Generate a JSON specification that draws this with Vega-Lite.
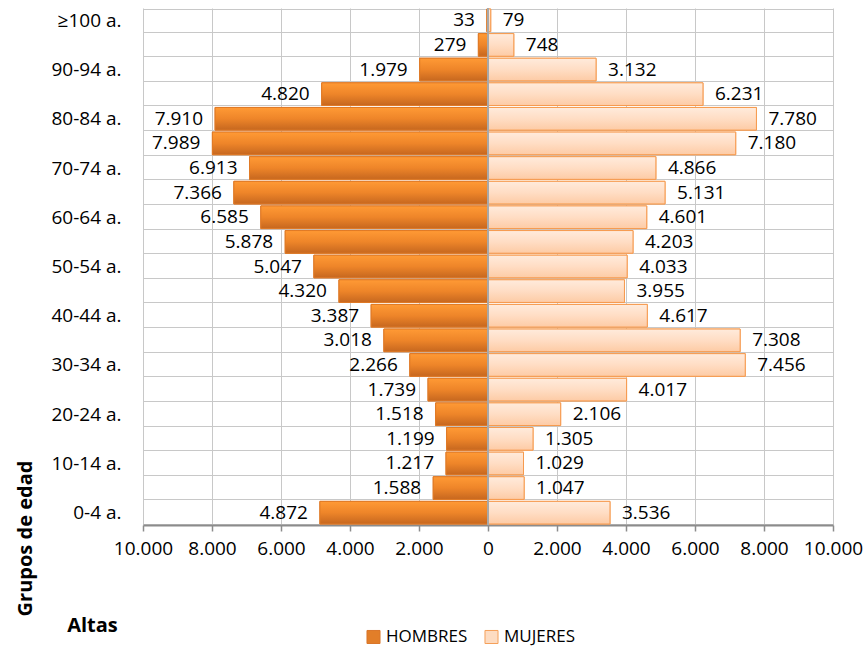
{
  "$schema": "https://vega.github.io/schema/vega-lite/v6.json",
  "width": 690,
  "height": 517,
  "autosize": {"type": "none"},
  "padding": {"left": 143, "top": 8, "right": 31, "bottom": 125},
  "background": "white",
  "config": {
    "font": "Open Sans",
    "view": {"stroke": null}
  },
  "data": {
    "values": [
      {"edad": "≥100 a.", "sexo": "HOMBRES", "n": 33},
      {"edad": "≥100 a.", "sexo": "MUJERES", "n": 79},
      {"edad": "95-99 a.", "sexo": "HOMBRES", "n": 279},
      {"edad": "95-99 a.", "sexo": "MUJERES", "n": 748},
      {"edad": "90-94 a.", "sexo": "HOMBRES", "n": 1979},
      {"edad": "90-94 a.", "sexo": "MUJERES", "n": 3132},
      {"edad": "85-89 a.", "sexo": "HOMBRES", "n": 4820},
      {"edad": "85-89 a.", "sexo": "MUJERES", "n": 6231},
      {"edad": "80-84 a.", "sexo": "HOMBRES", "n": 7910},
      {"edad": "80-84 a.", "sexo": "MUJERES", "n": 7780},
      {"edad": "75-79 a.", "sexo": "HOMBRES", "n": 7989},
      {"edad": "75-79 a.", "sexo": "MUJERES", "n": 7180},
      {"edad": "70-74 a.", "sexo": "HOMBRES", "n": 6913},
      {"edad": "70-74 a.", "sexo": "MUJERES", "n": 4866},
      {"edad": "65-69 a.", "sexo": "HOMBRES", "n": 7366},
      {"edad": "65-69 a.", "sexo": "MUJERES", "n": 5131},
      {"edad": "60-64 a.", "sexo": "HOMBRES", "n": 6585},
      {"edad": "60-64 a.", "sexo": "MUJERES", "n": 4601},
      {"edad": "55-59 a.", "sexo": "HOMBRES", "n": 5878},
      {"edad": "55-59 a.", "sexo": "MUJERES", "n": 4203},
      {"edad": "50-54 a.", "sexo": "HOMBRES", "n": 5047},
      {"edad": "50-54 a.", "sexo": "MUJERES", "n": 4033},
      {"edad": "45-49 a.", "sexo": "HOMBRES", "n": 4320},
      {"edad": "45-49 a.", "sexo": "MUJERES", "n": 3955},
      {"edad": "40-44 a.", "sexo": "HOMBRES", "n": 3387},
      {"edad": "40-44 a.", "sexo": "MUJERES", "n": 4617},
      {"edad": "35-39 a.", "sexo": "HOMBRES", "n": 3018},
      {"edad": "35-39 a.", "sexo": "MUJERES", "n": 7308},
      {"edad": "30-34 a.", "sexo": "HOMBRES", "n": 2266},
      {"edad": "30-34 a.", "sexo": "MUJERES", "n": 7456},
      {"edad": "25-29 a.", "sexo": "HOMBRES", "n": 1739},
      {"edad": "25-29 a.", "sexo": "MUJERES", "n": 4017},
      {"edad": "20-24 a.", "sexo": "HOMBRES", "n": 1518},
      {"edad": "20-24 a.", "sexo": "MUJERES", "n": 2106},
      {"edad": "15-19 a.", "sexo": "HOMBRES", "n": 1199},
      {"edad": "15-19 a.", "sexo": "MUJERES", "n": 1305},
      {"edad": "10-14 a.", "sexo": "HOMBRES", "n": 1217},
      {"edad": "10-14 a.", "sexo": "MUJERES", "n": 1029},
      {"edad": "5-9 a.", "sexo": "HOMBRES", "n": 1588},
      {"edad": "5-9 a.", "sexo": "MUJERES", "n": 1047},
      {"edad": "0-4 a.", "sexo": "HOMBRES", "n": 4872},
      {"edad": "0-4 a.", "sexo": "MUJERES", "n": 3536}
    ]
  },
  "transform": [
    {"calculate": "datum.sexo == 'HOMBRES' ? -datum.n : datum.n", "as": "x"},
    {"calculate": "replace(format(datum.n, ','), ',', '.')", "as": "lbl"}
  ],
  "layer": [
    {
      "mark": {"type": "bar", "strokeWidth": 1},
      "encoding": {
        "y": {
          "field": "edad",
          "type": "nominal",
          "sort": ["≥100 a.", "95-99 a.", "90-94 a.", "85-89 a.", "80-84 a.", "75-79 a.", "70-74 a.", "65-69 a.", "60-64 a.", "55-59 a.", "50-54 a.", "45-49 a.", "40-44 a.", "35-39 a.", "30-34 a.", "25-29 a.", "20-24 a.", "15-19 a.", "10-14 a.", "5-9 a.", "0-4 a."],
          "scale": {"paddingInner": 0.08, "paddingOuter": 0.04},
          "axis": {
            "title": "Grupos de edad",
            "titleFontSize": 20,
            "titleFontWeight": "bold",
            "titleColor": "black",
            "titleAngle": -90,
            "titleAlign": "center",
            "titleBaseline": "middle",
            "titleX": -118,
            "titleY": 530,
            "labelExpr": "indexof(['0-4 a.','10-14 a.','20-24 a.','30-34 a.','40-44 a.','50-54 a.','60-64 a.','70-74 a.','80-84 a.','90-94 a.','≥100 a.'], datum.value) >= 0 ? datum.value : ''",
            "labelFontSize": 19,
            "labelColor": "black",
            "labelPadding": 22,
            "ticks": false,
            "domain": false,
            "grid": true,
            "tickBand": "extent",
            "gridColor": "#c8c8c8",
            "gridWidth": 1
          }
        },
        "x": {
          "field": "x",
          "type": "quantitative",
          "stack": null,
          "scale": {"domain": [-10000, 10000], "nice": false},
          "axis": {
            "title": "Altas",
            "titleFontSize": 20,
            "titleFontWeight": "bold",
            "titleColor": "black",
            "titleX": -51,
            "titleY": 100,
            "titleAlign": "center",
            "titleBaseline": "middle",
            "values": [-10000, -8000, -6000, -4000, -2000, 0, 2000, 4000, 6000, 8000, 10000],
            "labelExpr": "replace(format(abs(datum.value), ','), ',', '.')",
            "labelFontSize": 19,
            "labelColor": "black",
            "labelPadding": 8,
            "labelFlush": false,
            "tickSize": 6,
            "tickColor": "#8c8c8c",
            "tickWidth": 1.5,
            "domainColor": "#8c8c8c",
            "domainWidth": 2,
            "grid": true,
            "gridColor": "#c8c8c8",
            "gridWidth": 1
          }
        },
        "fill": {
          "field": "sexo",
          "type": "nominal",
          "scale": {"domain": ["HOMBRES", "MUJERES"], "range": ["#E27E29", "#FDDCC2"]},
          "legend": {
            "title": null,
            "orient": "none",
            "legendX": 222,
            "legendY": 620,
            "direction": "horizontal",
            "symbolType": "square",
            "symbolSize": 170,
            "symbolStrokeWidth": 1,
            "labelFontSize": 17,
            "labelColor": "black",
            "columnPadding": 14,
            "labelOffset": 4
          }
        },
        "stroke": {
          "field": "sexo",
          "type": "nominal",
          "scale": {"domain": ["HOMBRES", "MUJERES"], "range": ["#D9762A", "#F5A05A"]},
          "legend": {
            "title": null,
            "orient": "none",
            "legendX": 222,
            "legendY": 620,
            "direction": "horizontal",
            "symbolType": "square",
            "symbolSize": 170,
            "labelFontSize": 17,
            "labelColor": "black",
            "columnPadding": 14,
            "labelOffset": 4
          }
        }
      }
    },
    {
      "transform": [{"filter": "datum.sexo == 'HOMBRES'"}],
      "mark": {
        "type": "bar",
        "strokeWidth": 1,
        "stroke": "#E07A26",
        "fill": {"gradient": "linear", "x1": 0, "y1": 0, "x2": 0, "y2": 1, "stops": [{"offset": 0, "color": "#FF9A35"}, {"offset": 0.5, "color": "#EE8529"}, {"offset": 1, "color": "#C6671F"}]}
      },
      "encoding": {
        "y": {"field": "edad", "type": "nominal", "sort": ["≥100 a.", "95-99 a.", "90-94 a.", "85-89 a.", "80-84 a.", "75-79 a.", "70-74 a.", "65-69 a.", "60-64 a.", "55-59 a.", "50-54 a.", "45-49 a.", "40-44 a.", "35-39 a.", "30-34 a.", "25-29 a.", "20-24 a.", "15-19 a.", "10-14 a.", "5-9 a.", "0-4 a."]},
        "x": {"field": "x", "type": "quantitative", "stack": null}
      }
    },
    {
      "transform": [{"filter": "datum.sexo == 'MUJERES'"}],
      "mark": {
        "type": "bar",
        "strokeWidth": 1,
        "stroke": "#F69A4E",
        "fill": {"gradient": "linear", "x1": 0, "y1": 0, "x2": 0, "y2": 1, "stops": [{"offset": 0, "color": "#FFEBDC"}, {"offset": 0.5, "color": "#FFDDC4"}, {"offset": 1, "color": "#FDCBA5"}]}
      },
      "encoding": {
        "y": {"field": "edad", "type": "nominal", "sort": ["≥100 a.", "95-99 a.", "90-94 a.", "85-89 a.", "80-84 a.", "75-79 a.", "70-74 a.", "65-69 a.", "60-64 a.", "55-59 a.", "50-54 a.", "45-49 a.", "40-44 a.", "35-39 a.", "30-34 a.", "25-29 a.", "20-24 a.", "15-19 a.", "10-14 a.", "5-9 a.", "0-4 a."]},
        "x": {"field": "x", "type": "quantitative", "stack": null}
      }
    },
    {
      "data": {"values": [{"z": 0}]},
      "mark": {"type": "rule", "color": "#a8a8a8", "strokeWidth": 2},
      "encoding": {"x": {"field": "z", "type": "quantitative"}}
    },
    {
      "transform": [{"filter": "datum.sexo == 'HOMBRES'"}],
      "mark": {"type": "text", "align": "right", "baseline": "middle", "dx": -12, "fontSize": 19, "color": "black"},
      "encoding": {
        "y": {"field": "edad", "type": "nominal", "sort": ["≥100 a.", "95-99 a.", "90-94 a.", "85-89 a.", "80-84 a.", "75-79 a.", "70-74 a.", "65-69 a.", "60-64 a.", "55-59 a.", "50-54 a.", "45-49 a.", "40-44 a.", "35-39 a.", "30-34 a.", "25-29 a.", "20-24 a.", "15-19 a.", "10-14 a.", "5-9 a.", "0-4 a."]},
        "x": {"field": "x", "type": "quantitative"},
        "text": {"field": "lbl"}
      }
    },
    {
      "transform": [{"filter": "datum.sexo == 'MUJERES'"}],
      "mark": {"type": "text", "align": "left", "baseline": "middle", "dx": 12, "fontSize": 19, "color": "black"},
      "encoding": {
        "y": {"field": "edad", "type": "nominal", "sort": ["≥100 a.", "95-99 a.", "90-94 a.", "85-89 a.", "80-84 a.", "75-79 a.", "70-74 a.", "65-69 a.", "60-64 a.", "55-59 a.", "50-54 a.", "45-49 a.", "40-44 a.", "35-39 a.", "30-34 a.", "25-29 a.", "20-24 a.", "15-19 a.", "10-14 a.", "5-9 a.", "0-4 a."]},
        "x": {"field": "x", "type": "quantitative"},
        "text": {"field": "lbl"}
      }
    }
  ]
}
